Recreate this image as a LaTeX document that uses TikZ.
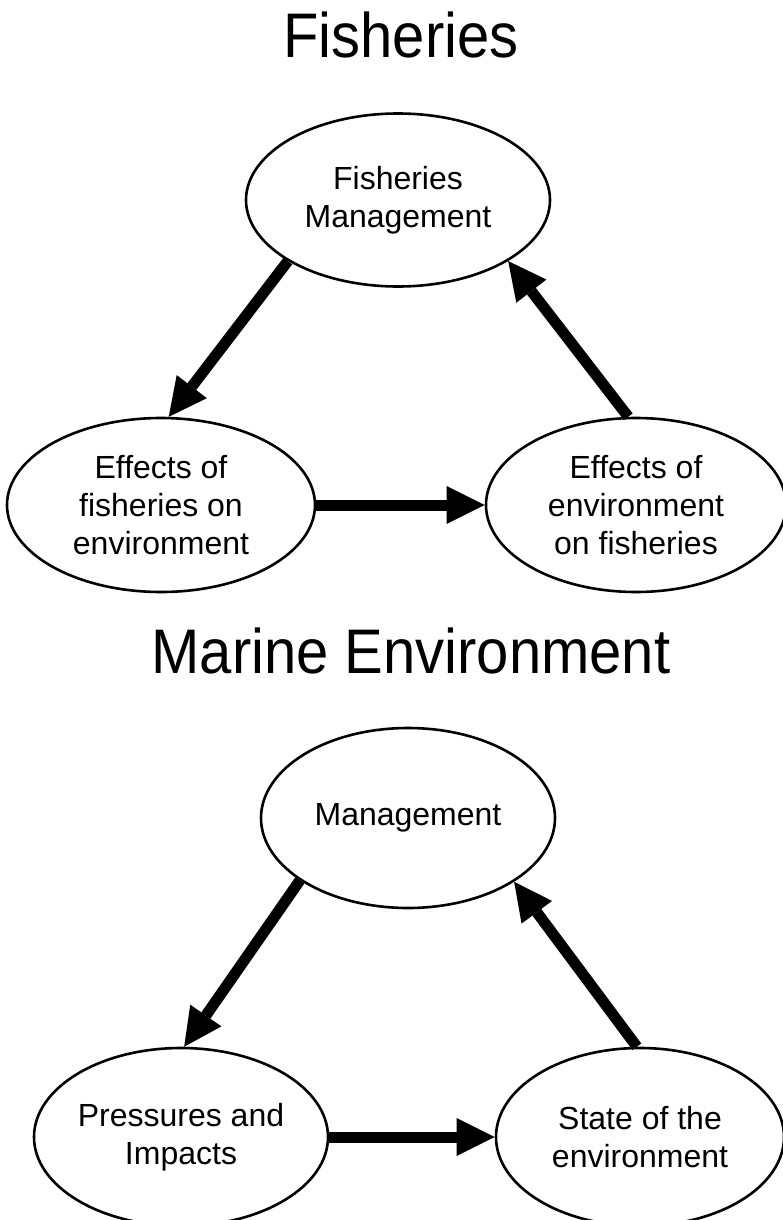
\documentclass[tikz,border=0pt]{standalone}
\usepackage{fontspec}
\setmainfont{Liberation Sans}
\newfontfamily\titlefont{Liberation Sans}[FakeStretch=0.92]
\usetikzlibrary{shapes.geometric,arrows.meta}
\begin{document}
\begin{tikzpicture}[x=1pt,y=-1pt,
  oval/.style={draw, ellipse, line width=2.6pt, inner sep=0pt, align=center,
               font=\fontsize{32}{38}\selectfont},
  flow/.style={line width=11pt, -{Triangle[length=38pt,width=38pt,line width=0pt]}},
  heading/.style={font=\titlefont\fontsize{63}{70}\selectfont, anchor=base}]
\fill[white] (0,0) rectangle (782,1220);
\useasboundingbox (0,0) rectangle (782,1220);

% Fisheries cycle
\node[heading] (t1) at (401,58) {Fisheries};
\node[oval, minimum width=304pt, minimum height=173pt] (fm) at (398,200) {Fisheries\\Management};
\node[oval, minimum width=308pt, minimum height=174pt] (fe) at (161,505) {Effects of\\fisheries on\\environment};
\node[oval, minimum width=300pt, minimum height=174pt] (ef) at (636,505) {Effects of\\environment\\on fisheries};
\draw[flow] (fm.209) -- (fe.85);
\draw[flow] (fe.east) -- (ef.west);
\draw[flow] (ef.95) -- (fm.331);

% Marine environment cycle
\node[heading] (t2) at (411,673) {Marine Environment};
\node[oval, minimum width=294pt, minimum height=180pt] (mg) at (408,818) {Management};
\node[oval, minimum width=294pt, minimum height=178pt] (pi) at (181,1137) {Pressures and\\Impacts};
\node[oval, minimum width=288pt, minimum height=178pt] (se) at (640,1137) {State of the\\environment};
\draw[flow] (mg.210) -- (pi.88);
\draw[flow] (pi.east) -- (se.west);
\draw[flow] (se.92) -- (mg.329);
\end{tikzpicture}
\end{document}
